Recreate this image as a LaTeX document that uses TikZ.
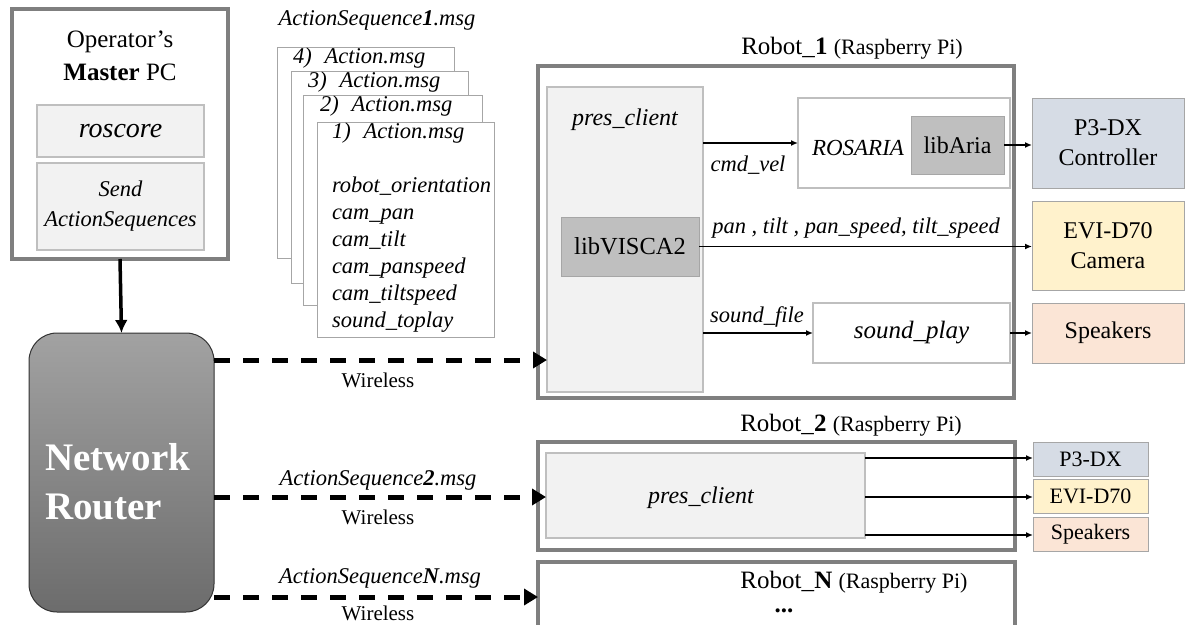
\documentclass[tikz,border=0pt]{standalone}
\usepackage{fontspec}
\setmainfont{Liberation Serif}
\usetikzlibrary{arrows.meta}
\definecolor{obord}{HTML}{7F7F7F}
\definecolor{lfill}{HTML}{F2F2F2}
\definecolor{lbord}{HTML}{BFBFBF}
\definecolor{gfill}{HTML}{BFBFBF}
\definecolor{gbord}{HTML}{A6A6A6}
\definecolor{bluef}{HTML}{D6DCE5}
\definecolor{yelf}{HTML}{FFF2CC}
\definecolor{orf}{HTML}{FBE5D6}
\definecolor{rtop}{HTML}{A2A2A2}
\definecolor{rbot}{HTML}{6C6C6C}
\begin{document}
\begin{tikzpicture}[x=1pt,y=-1pt,
  box/.style={rectangle, inner sep=0pt, outer sep=0pt},
  outerbox/.style={box, draw=obord, line width=3.5pt},
  lightbox/.style={box, fill=lfill, draw=lbord, line width=1.2pt},
  libbox/.style={box, fill=gfill, draw=gbord, line width=1pt},
  whitebox/.style={box, fill=white, draw=lbord, line width=1.2pt},
  sheet/.style={box, fill=white, draw=gbord, line width=1pt},
  devbox/.style={box, draw=gbord, line width=1pt, align=center, font=\fontsize{24}{30}\selectfont},
  smalldev/.style={box, draw=gbord, line width=1pt, font=\fontsize{22}{26}\selectfont},
  txt/.style={inner sep=0pt, outer sep=0pt, align=center},
  big/.style={txt, font=\fontsize{25}{30}\selectfont},
  ital/.style={txt, font=\fontsize{22.5}{27}\selectfont\itshape},
  wl/.style={txt, font=\fontsize{21}{25}\selectfont},
  arr/.style={line width=1.5pt, -{Latex[length=7pt,width=6pt]}},
  dasharr/.style={line width=5pt, dash pattern=on 16pt off 13pt, -{Triangle[length=14pt,width=16pt]}}
]
\useasboundingbox (0,0) rectangle (1185,624);
\clip (0,0) rectangle (1185,624);
\fill[white] (0,0) rectangle (1185,624);

% Operator PC
\node[outerbox, minimum width=216pt, minimum height=250pt] (pc) at (120,134) {};
\node[big] (pct1) at (120,42) {Operator’s};
\node[big] (pct2) at (120,72) {\textbf{Master} PC};
\node[lightbox, minimum width=167pt, minimum height=52pt, font=\fontsize{28}{32}\selectfont\itshape] (roscore) at (120.5,131) {roscore};
\node[lightbox, minimum width=167pt, minimum height=87pt, align=center, font=\fontsize{22.5}{30}\selectfont\itshape] (send) at (120.5,206.5) {Send\\ActionSequences};

% Router
\node[box, rounded corners=28pt, top color=rtop, bottom color=rbot, draw=black!80, line width=1pt, minimum width=185pt, minimum height=279pt] (router) at (121.5,472.5) {};
\node[txt, anchor=west, align=left, text=white, font=\fontsize{39}{49}\selectfont\bfseries] (rtext) at (45,482) {Network\\Router};
\draw[line width=3.5pt, -{Latex[length=13pt,width=13pt]}] (pc.south) -- (router.north);

% message sheets
\node[ital] (seqtitle) at (377,20) {ActionSequence\textbf{1}.msg};
\node[sheet, minimum width=177pt, minimum height=211pt] (s4) at (365.5,152.5) {};
\node[sheet, minimum width=177pt, minimum height=212pt] (s3) at (379.5,177) {};
\node[sheet, minimum width=179pt, minimum height=210pt] (s2) at (392.5,200) {};
\node[sheet, minimum width=177pt, minimum height=215pt] (s1) at (405.5,229.5) {};
\node[ital, anchor=west] (h4) at (293,58) {4)\hspace{13pt}Action.msg};
\node[ital, anchor=west] (h3) at (308,82) {3)\hspace{13pt}Action.msg};
\node[ital, anchor=west] (h2) at (320,106) {2)\hspace{13pt}Action.msg};
\node[ital, anchor=west] (h1) at (332,133) {1)\hspace{13pt}Action.msg};
\node[ital, anchor=north west, align=left] (fields) at (332,176.5) {robot\_orientation\\cam\_pan\\cam\_tilt\\cam\_panspeed\\cam\_tiltspeed\\sound\_toplay};

% Robot 1
\node[big] (r1lab) at (852,48) {Robot\_\textbf{1} {\fontsize{22}{26}\selectfont(Raspberry Pi)}};
\node[outerbox, minimum width=476pt, minimum height=332pt] (robot1) at (776,232) {};
\node[lightbox, minimum width=156pt, minimum height=305pt] (pres1) at (625,239.5) {};
\node[txt, font=\fontsize{24}{28}\selectfont\itshape] (pres1t) at (625,120) {pres\_client};
\node[libbox, minimum width=138pt, minimum height=59pt, font=\fontsize{24.5}{28}\selectfont] (visca) at (630,246.5) {libVISCA2};
\node[whitebox, minimum width=212pt, minimum height=90pt] (ros) at (904,143) {};
\node[txt, font=\fontsize{23}{28}\selectfont\itshape] (rost) at (858,148) {ROSARIA};
\node[libbox, minimum width=93pt, minimum height=58pt, font=\fontsize{24}{28}\selectfont] (aria) at (957.5,145) {libAria};
\node[whitebox, minimum width=197pt, minimum height=60pt, font=\fontsize{25}{28}\selectfont\itshape] (snd) at (911.5,333) {sound\_play};

\node[devbox, fill=bluef, minimum width=152pt, minimum height=90pt] (p3) at (1108,143) {P3-DX\\Controller};
\node[devbox, fill=yelf, minimum width=152pt, minimum height=89pt] (evi) at (1108,245.5) {EVI-D70\\Camera};
\node[devbox, fill=orf, minimum width=152pt, minimum height=60pt] (spk) at (1108,333) {Speakers};

\draw[arr] (pres1.east |- ros.west) -- (ros.west);
\node[ital] (cmdl) at (748,165) {cmd\_vel};
\draw[arr] (visca.east) -- (visca.east -| evi.west);
\node[ital] (pantl) at (856,228) {pan , tilt , pan\_speed, tilt\_speed};
\draw[arr] (pres1.east |- snd.west) -- (snd.west);
\node[ital] (sndl) at (757,317) {sound\_file};
\draw[arr] (aria.east) -- (aria.east -| p3.west);
\draw[arr] (snd.east) -- (spk.west);

% Robot 2
\node[big] (r2lab) at (851,425) {Robot\_\textbf{2} {\fontsize{22}{26}\selectfont(Raspberry Pi)}};
\node[outerbox, minimum width=477pt, minimum height=108pt] (robot2) at (776.5,496) {};
\node[lightbox, minimum width=319pt, minimum height=85pt] (pres2) at (705.5,495.5) {};
\node[txt, font=\fontsize{24}{28}\selectfont\itshape] (pres2t) at (701,498) {pres\_client};
\node[smalldev, fill=bluef, minimum width=115pt, minimum height=34pt] (p3b) at (1090.5,459) {P3-DX};
\node[smalldev, fill=yelf, minimum width=115pt, minimum height=34pt] (evib) at (1090.5,496) {EVI-D70};
\node[smalldev, fill=orf, minimum width=115pt, minimum height=34pt] (spkb) at (1090.5,534) {Speakers};
\draw[arr] (pres2.east |- 0,458) -- (p3b.west |- 0,458);
\draw[arr] (pres2.east |- 0,497) -- (evib.west |- 0,497);
\draw[arr] (pres2.east |- 0,535) -- (spkb.west |- 0,535);

% Robot N
\node[outerbox, minimum width=477pt, minimum height=90pt] (robotN) at (776.5,607) {};
\node[big] (rNlab) at (854,582) {Robot\_\textbf{N} {\fontsize{22}{26}\selectfont(Raspberry Pi)}};
\node[big] (rNdots) at (784,611) {\textbf{...}};

% wireless links
\draw[dasharr] (router.east |- 0,360) -- (pres1.west |- 0,360);
\node[wl] (w1) at (378,380) {Wireless};
\draw[dasharr] (router.east |- 0,497) -- (pres2.west |- 0,497);
\node[ital] (seq2) at (378,480) {ActionSequence\textbf{2}.msg};
\node[wl] (w2) at (378,517) {Wireless};
\draw[dasharr] (router.east |- 0,597) -- (robotN.west |- 0,597);
\node[ital] (seqN) at (380,578) {ActionSequence\textbf{N}.msg};
\node[wl] (w3) at (378,613) {Wireless};
\end{tikzpicture}
\end{document}
